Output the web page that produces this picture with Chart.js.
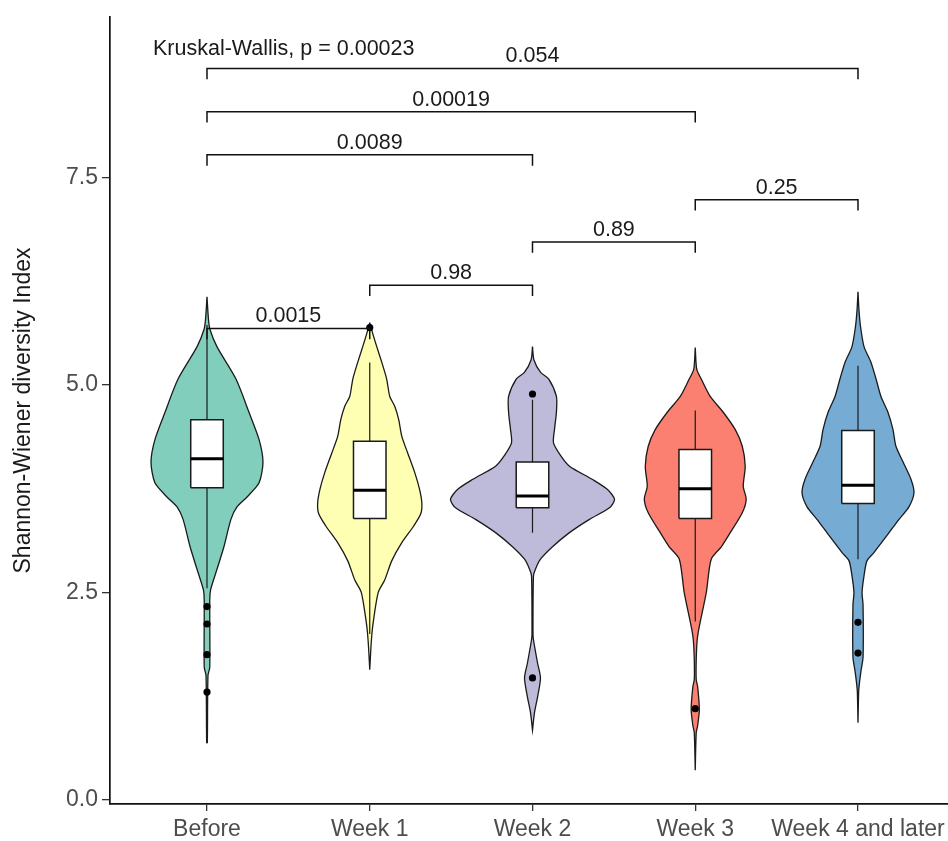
<!DOCTYPE html>
<html lang="en">
<head>
<meta charset="UTF-8">
<title>Shannon-Wiener diversity Index</title>
<script src="https://cdn.jsdelivr.net/npm/chart.js"></script>
<style>
  body { margin: 0; background: #fff; }
  .wrap { width: 948px; height: 841px; position: relative; }
</style>
</head>
<body>
<div class="wrap"><canvas id="violin"></canvas></div>
<script>
const groups = ["Before", "Week 1", "Week 2", "Week 3", "Week 4 and later"];
const colors = ["#82CEBD", "#FFFFB3", "#BEBADA", "#FB8072", "#76ABD4"];
const yTicks = [0, 2.5, 5, 7.5];

// violin outline per group: values (top to bottom) and half widths in category units
const violinY = [
  [6.06, 5.79, 5.67, 5.46, 5.07, 4.67, 4.34, 4.07, 3.82, 3.65, 3.53, 3.38, 3.05, 2.74, 2.53, 2.41, 1.60, 1.50, 0.69],
  [5.75, 5.62, 5.46, 5.27, 5.07, 4.86, 4.74, 4.58, 4.38, 4.18, 3.94, 3.75, 3.58, 3.45, 3.30, 3.10, 2.88, 2.65, 2.50, 2.09, 1.89, 1.57],
  [5.46, 5.30, 5.15, 5.07, 4.86, 4.67, 4.46, 4.30, 4.15, 4.02, 3.86, 3.74, 3.62, 3.52, 3.38, 3.22, 3.05, 2.90, 2.78, 2.70, 2.00, 1.93, 1.65, 1.47, 1.24, 1.05, 0.84],
  [5.45, 5.19, 5.07, 4.86, 4.67, 4.46, 4.26, 4.02, 3.78, 3.62, 3.46, 3.22, 3.05, 2.90, 2.50, 2.09, 1.93, 1.69, 1.45, 1.36, 1.09, 0.90, 0.81, 0.36],
  [6.12, 5.90, 5.71, 5.46, 5.27, 5.07, 4.86, 4.67, 4.46, 4.26, 4.07, 3.86, 3.70, 3.53, 3.38, 3.17, 2.98, 2.88, 2.70, 2.50, 2.35, 1.72, 1.55, 1.41, 1.30, 0.93]
];
const violinW = [
  [0, 0.009, 0.018, 0.061, 0.178, 0.258, 0.320, 0.344, 0.320, 0.246, 0.184, 0.147, 0.104, 0.055, 0.022, 0.017, 0.017, 0.006, 0.002],
  [0, 0.018, 0.043, 0.074, 0.104, 0.123, 0.154, 0.178, 0.197, 0.233, 0.277, 0.305, 0.320, 0.314, 0.270, 0.197, 0.135, 0.092, 0.052, 0.018, 0.009, 0],
  [0, 0.009, 0.050, 0.100, 0.147, 0.147, 0.135, 0.129, 0.172, 0.227, 0.369, 0.461, 0.504, 0.473, 0.350, 0.227, 0.123, 0.049, 0.018, 0.006, 0.003, 0.006, 0.031, 0.049, 0.031, 0.012, 0],
  [0, 0.009, 0.037, 0.092, 0.172, 0.246, 0.289, 0.307, 0.295, 0.313, 0.289, 0.215, 0.160, 0.098, 0.068, 0.025, 0.012, 0.006, 0.006, 0.015, 0.025, 0.015, 0.006, 0],
  [0, 0.006, 0.015, 0.037, 0.080, 0.111, 0.141, 0.184, 0.215, 0.233, 0.277, 0.326, 0.344, 0.313, 0.252, 0.172, 0.098, 0.055, 0.037, 0.025, 0.031, 0.031, 0.018, 0.009, 0.004, 0]
];

// boxplot statistics
const q1 = [3.76, 3.39, 3.52, 3.39, 3.57];
const median = [4.11, 3.73, 3.66, 3.75, 3.79];
const q3 = [4.58, 4.32, 4.07, 4.22, 4.45];
const whiskerLo = [2.55, 2.00, 3.22, 2.15, 2.90];
const whiskerHi = [5.72, 5.27, 4.82, 4.69, 5.23];
const outliers = [[2.33, 2.12, 1.75, 1.30], [5.69], [4.89, 1.47], [1.10], [2.14, 1.77]];

// pairwise comparisons
const bracketFrom = [1, 2, 3, 4, 1, 1, 1];
const bracketTo = [2, 3, 4, 5, 3, 4, 5];
const bracketY = [5.68, 6.20, 6.72, 7.23, 7.77, 8.29, 8.81];
const bracketLabels = ["0.0015", "0.98", "0.89", "0.25", "0.0089", "0.00019", "0.054"];
const kruskalText = "Kruskal-Wallis, p = 0.00023";
const kruskalAt = { x: 0.668, y: 8.97 };

const FONT = '"Liberation Sans", Arial, sans-serif';
const BOX_HALF = 0.1;
const BRACKET_TICK = 0.13;

Chart.defaults.font.family = FONT;

const datasets = [];

groups.forEach((g, i) => {
  const cx = i + 1;
  const ys = violinY[i], ws = violinW[i];
  const pts = [];
  ys.forEach((v, k) => pts.push({ x: cx + ws[k], y: v }));
  for (let k = ys.length - 1; k >= 0; k--) pts.push({ x: cx - ws[k], y: ys[k] });
  datasets.push({
    label: g, data: pts, showLine: true, fill: 'shape', tension: 0.25,
    backgroundColor: colors[i], borderColor: '#1a1a1a', borderWidth: 1.3,
    pointRadius: 0, order: 10
  });
});

// whiskers
const whiskerPts = [];
groups.forEach((g, i) => {
  whiskerPts.push({ x: i + 1, y: whiskerLo[i] }, { x: i + 1, y: whiskerHi[i] }, { x: i + 1, y: null });
});
datasets.push({ data: whiskerPts, showLine: true, borderColor: '#1a1a1a', borderWidth: 1.2, pointRadius: 0, order: 8 });

// boxes
groups.forEach((g, i) => {
  const l = i + 1 - BOX_HALF, r = i + 1 + BOX_HALF;
  datasets.push({
    data: [{ x: l, y: q1[i] }, { x: r, y: q1[i] }, { x: r, y: q3[i] }, { x: l, y: q3[i] }, { x: l, y: q1[i] }],
    showLine: true, fill: 'shape', backgroundColor: '#ffffff', borderColor: '#1a1a1a',
    borderWidth: 1.5, pointRadius: 0, order: 6
  });
});

// medians
const medianPts = [];
groups.forEach((g, i) => {
  medianPts.push({ x: i + 1 - BOX_HALF, y: median[i] }, { x: i + 1 + BOX_HALF, y: median[i] }, { x: i + 1, y: null });
});
datasets.push({ data: medianPts, showLine: true, borderColor: '#000', borderWidth: 3, pointRadius: 0, order: 4 });

// outliers
const outlierPts = [];
outliers.forEach((vals, i) => vals.forEach(v => outlierPts.push({ x: i + 1, y: v })));
datasets.push({ data: outlierPts, showLine: false, pointRadius: 3.6, backgroundColor: '#000', borderColor: '#000', borderWidth: 0, order: 2 });

// brackets
const bracketPts = [];
bracketY.forEach((v, k) => {
  bracketPts.push(
    { x: bracketFrom[k], y: v - BRACKET_TICK }, { x: bracketFrom[k], y: v },
    { x: bracketTo[k], y: v }, { x: bracketTo[k], y: v - BRACKET_TICK },
    { x: bracketTo[k], y: null }
  );
});
datasets.push({ data: bracketPts, showLine: true, borderColor: '#111', borderWidth: 1.5, pointRadius: 0, order: 1 });

const annotate = {
  id: 'annotate',
  afterDatasetsDraw(chart) {
    const { ctx, scales: { x, y } } = chart;
    ctx.save();
    ctx.font = '21.5px ' + FONT;
    ctx.fillStyle = '#1a1a1a';
    ctx.textBaseline = 'alphabetic';
    ctx.textAlign = 'center';
    bracketLabels.forEach((t, k) => {
      ctx.fillText(t, x.getPixelForValue((bracketFrom[k] + bracketTo[k]) / 2), y.getPixelForValue(bracketY[k]) - 6);
    });
    ctx.textAlign = 'left';
    ctx.fillText(kruskalText, x.getPixelForValue(kruskalAt.x), y.getPixelForValue(kruskalAt.y));
    ctx.restore();
  }
};

new Chart(document.getElementById('violin'), {
  type: 'scatter',
  data: { datasets },
  plugins: [annotate],
  options: {
    responsive: true,
    maintainAspectRatio: false,
    animation: false,
    events: [],
    layout: { autoPadding: false, padding: { top: 17, left: 0, right: 0, bottom: 0 } },
    plugins: { legend: { display: false }, tooltip: { enabled: false } },
    scales: {
      x: {
        type: 'linear', min: 0.404, max: 5.553,
        afterBuildTicks: s => { s.ticks = groups.map((g, i) => ({ value: i + 1 })); },
        ticks: { callback: v => groups[v - 1], font: { size: 23 }, color: '#4d4d4d', padding: 5, maxRotation: 0, autoSkip: false },
        grid: { display: true, drawOnChartArea: false, drawTicks: true, tickLength: 7, color: '#333', lineWidth: 1.3 },
        border: { display: true, color: '#111', width: 1.7 },
        afterFit: s => { s.height = 37; s.paddingLeft = 0; s.paddingRight = 0; }
      },
      y: {
        type: 'linear', min: -0.048, max: 9.43,
        afterBuildTicks: s => { s.ticks = yTicks.map(v => ({ value: v })); },
        ticks: { callback: v => v.toFixed(1), font: { size: 23 }, color: '#4d4d4d', padding: 4 },
        grid: { display: true, drawOnChartArea: false, drawTicks: true, tickLength: 8, color: '#333', lineWidth: 1.3 },
        border: { display: true, color: '#111', width: 1.7 },
        title: { display: true, text: 'Shannon-Wiener diversity Index', font: { size: 23 }, color: '#1a1a1a', padding: { top: 10, bottom: 0 } },
        afterFit: s => { s.width = 110; s.paddingTop = 0; s.paddingBottom = 0; }
      }
    }
  }
});
</script>
</body>
</html>
